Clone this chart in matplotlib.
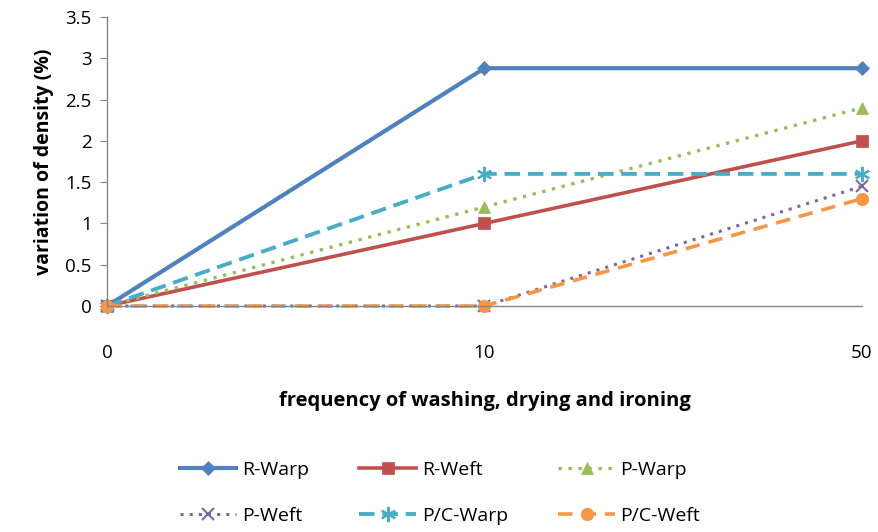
import matplotlib
matplotlib.use("Agg")
import matplotlib.pyplot as plt

categories = ["0", "10", "50"]
r_warp = [0, 2.88, 2.88]
r_weft = [0, 1.0, 2.0]
p_warp = [0, 1.2, 2.4]
p_weft = [0, 0, 1.45]
pc_warp = [0, 1.6, 1.6]
pc_weft = [0, 0, 1.3]
y_ticks = [0, 0.5, 1, 1.5, 2, 2.5, 3, 3.5]
y_tick_labels = ["0", "0.5", "1", "1.5", "2", "2.5", "3", "3.5"]

plt.rcParams['font.family'] = ['Open Sans', 'DejaVu Sans']

fig = plt.figure(figsize=(8.79, 5.32), dpi=100)
ax = fig.add_axes([107/879, 1-306/532, (862-107)/879, (306-17)/532])

x = list(range(len(categories)))
series = [
    ("R-Warp", r_warp, "#4F81BD", "-", "D", 7, 3.0),
    ("R-Weft", r_weft, "#C0504D", "-", "s", 9, 2.6),
    ("P-Warp", p_warp, "#9BBB59", (0, (1, 2)), "^", 9, 2.4),
    ("P-Weft", p_weft, "#8064A2", (0, (1, 2)), "x", 8, 2.2),
    ("P/C-Warp", pc_warp, "#4BACC6", (0, (4, 2)), (6, 2, 0), 11, 2.8),
    ("P/C-Weft", pc_weft, "#F79646", (0, (4, 2.5)), "o", 9, 2.6),
]
for name, vals, col, ls, mk, ms, lw in series:
    ax.plot(x, vals, color=col, linestyle=ls, linewidth=lw, marker=mk,
            markersize=ms, markeredgewidth=1.5 if mk in ("x",) or isinstance(mk, tuple) else 0.5,
            markeredgecolor=col, label=name, clip_on=False)

ax.set_xlim(0, 2)
ax.set_ylim(0, 3.5)
ax.set_xticks(x)
ax.set_xticklabels(categories, fontsize=13.5)
ax.set_yticks(y_ticks)
ax.set_yticklabels(y_tick_labels, fontsize=13.5)
ax.tick_params(axis='x', length=0, pad=27)
ax.tick_params(axis='y', length=5, color="#868686", pad=6, direction='out')
for s in ("top", "right"):
    ax.spines[s].set_visible(False)
for s in ("left", "bottom"):
    ax.spines[s].set_color("#868686")
    ax.spines[s].set_linewidth(1.0)

ax.set_ylabel("variation of density (%)", fontsize=14, fontweight="bold", labelpad=8)
fig.text(485/879, 1-401/532, "frequency of washing, drying and ironing",
         ha="center", va="center", fontsize=14.5, fontweight="bold")

handles, labels = ax.get_legend_handles_labels()
order = [0, 3, 1, 4, 2, 5]
fig.legend([handles[i] for i in order], [labels[i] for i in order], ncol=3,
           frameon=False, loc="center",
           bbox_to_anchor=(440/879, 1-493/532), fontsize=14,
           handlelength=2.9, columnspacing=2.6, handletextpad=0.3, labelspacing=1.45)

fig.savefig("out.png", dpi=100)
